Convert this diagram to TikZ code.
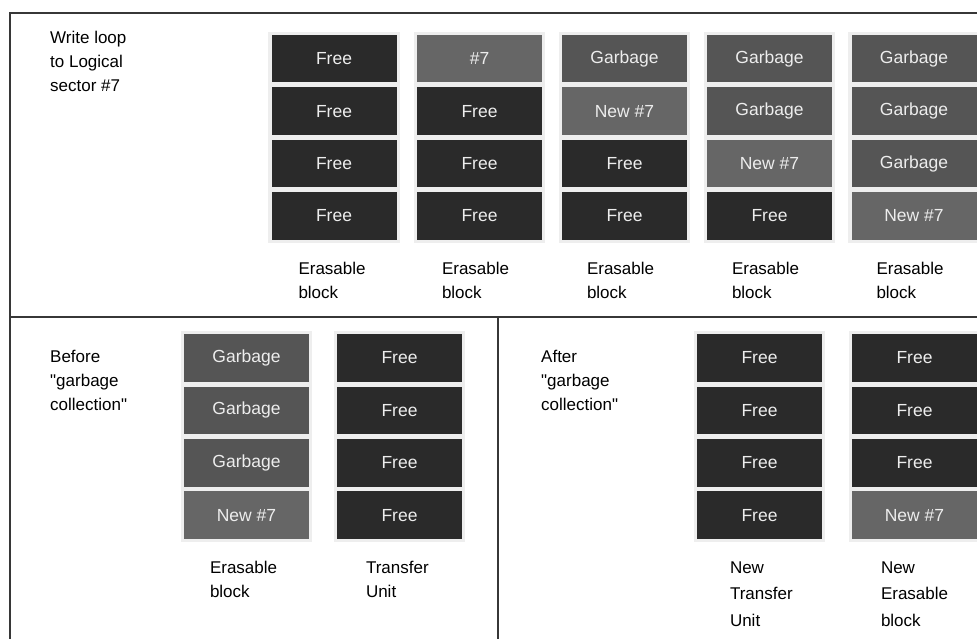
\documentclass[tikz,border=0pt]{standalone}
\usepackage{fontspec}
\setmainfont{Liberation Sans}
\usetikzlibrary{positioning,fit,backgrounds}
\definecolor{freegray}{RGB}{42,42,42}
\definecolor{garbgray}{RGB}{85,85,85}
\definecolor{newgray}{RGB}{102,102,102}
\definecolor{padgray}{RGB}{238,238,238}
\definecolor{framegray}{RGB}{55,55,55}

\begin{document}
\begin{tikzpicture}[x=1pt, y=-1pt, node distance=4.5pt]
  \tikzset{
    cell/.style={minimum width=125pt,minimum height=47.5pt,inner sep=0pt,
                 text=white!93!black,font=\fontsize{17.5}{20}\selectfont},
    freecell/.style={cell,fill=freegray},
    garbcell/.style={cell,fill=garbgray},
    newcell/.style={cell,fill=newgray},
    pad/.style={fill=padgray,inner sep=3pt},
    caption/.style={align=left,inner sep=0pt,font=\fontsize{17}{24}\selectfont},
    tallcaption/.style={caption,font=\fontsize{17}{26.5}\selectfont},
    rule/.style={draw=framegray,line width=1.6pt}
  }
  \useasboundingbox (0,0) rectangle (977,639);

  % frame
  \draw[rule] (977,13) -- (10,13) -- (10,639);
  \draw[rule] (10,317) -- (977,317);
  \draw[rule] (498,317) -- (498,639);

  % write loop
  \node[caption,anchor=north west] (wtitle) at (50,31) {Write loop\\to Logical\\sector \#7};

  \node[freecell] (w1a) at (334,58.75) {Free};
  \node[freecell,below=of w1a] (w1b) {Free};
  \node[freecell,below=of w1b] (w1c) {Free};
  \node[freecell,below=of w1c] (w1d) {Free};

  \node[newcell] (w2a) at (479.5,58.75) {\#7};
  \node[freecell,below=of w2a] (w2b) {Free};
  \node[freecell,below=of w2b] (w2c) {Free};
  \node[freecell,below=of w2c] (w2d) {Free};

  \node[garbcell] (w3a) at (624.5,58.75) {Garbage};
  \node[newcell,below=of w3a] (w3b) {New \#7};
  \node[freecell,below=of w3b] (w3c) {Free};
  \node[freecell,below=of w3c] (w3d) {Free};

  \node[garbcell] (w4a) at (769.5,58.75) {Garbage};
  \node[garbcell,below=of w4a] (w4b) {Garbage};
  \node[newcell,below=of w4b] (w4c) {New \#7};
  \node[freecell,below=of w4c] (w4d) {Free};

  \node[garbcell] (w5a) at (914,58.75) {Garbage};
  \node[garbcell,below=of w5a] (w5b) {Garbage};
  \node[garbcell,below=of w5b] (w5c) {Garbage};
  \node[newcell,below=of w5c] (w5d) {New \#7};

  \node[caption,below right=22pt and 27pt of w1d.south west] (w1cap) {Erasable\\block};
  \node[caption,below right=22pt and 25pt of w2d.south west] (w2cap) {Erasable\\block};
  \node[caption,below right=22pt and 25pt of w3d.south west] (w3cap) {Erasable\\block};
  \node[caption,below right=22pt and 25pt of w4d.south west] (w4cap) {Erasable\\block};
  \node[caption,below right=22pt and 25pt of w5d.south west] (w5cap) {Erasable\\block};

  % before garbage collection
  \node[caption,anchor=north west] (btitle) at (50,350)
    {Before\\\textquotedbl garbage\\collection\textquotedbl};

  \node[garbcell] (bEa) at (246.5,358) {Garbage};
  \node[garbcell,below=of bEa] (bEb) {Garbage};
  \node[garbcell,below=of bEb] (bEc) {Garbage};
  \node[newcell,below=of bEc] (bEd) {New \#7};

  \node[freecell] (bTa) at (399.5,358) {Free};
  \node[freecell,below=of bTa] (bTb) {Free};
  \node[freecell,below=of bTb] (bTc) {Free};
  \node[freecell,below=of bTc] (bTd) {Free};

  \node[caption,below right=22pt and 26pt of bEd.south west] (bEcap) {Erasable\\block};
  \node[caption,below right=22pt and 29pt of bTd.south west] (bTcap) {Transfer\\Unit};

  % after garbage collection
  \node[caption,anchor=north west] (atitle) at (541,350)
    {After\\\textquotedbl garbage\\collection\textquotedbl};

  \node[freecell] (aTa) at (759.5,358) {Free};
  \node[freecell,below=of aTa] (aTb) {Free};
  \node[freecell,below=of aTb] (aTc) {Free};
  \node[freecell,below=of aTc] (aTd) {Free};

  \node[freecell] (aEa) at (914.5,358) {Free};
  \node[freecell,below=of aEa] (aEb) {Free};
  \node[freecell,below=of aEb] (aEc) {Free};
  \node[newcell,below=of aEc] (aEd) {New \#7};

  \node[tallcaption,below right=22pt and 33pt of aTd.south west] (aTcap) {New\\Transfer\\Unit};
  \node[tallcaption,below right=22pt and 29pt of aEd.south west] (aEcap) {New\\Erasable\\block};

  \begin{scope}[on background layer]
    \foreach \c in {w1,w2,w3,w4,w5,bE,bT,aT,aE}
      \node[pad,fit=(\c a)(\c d)] {};
  \end{scope}
\end{tikzpicture}
\end{document}
